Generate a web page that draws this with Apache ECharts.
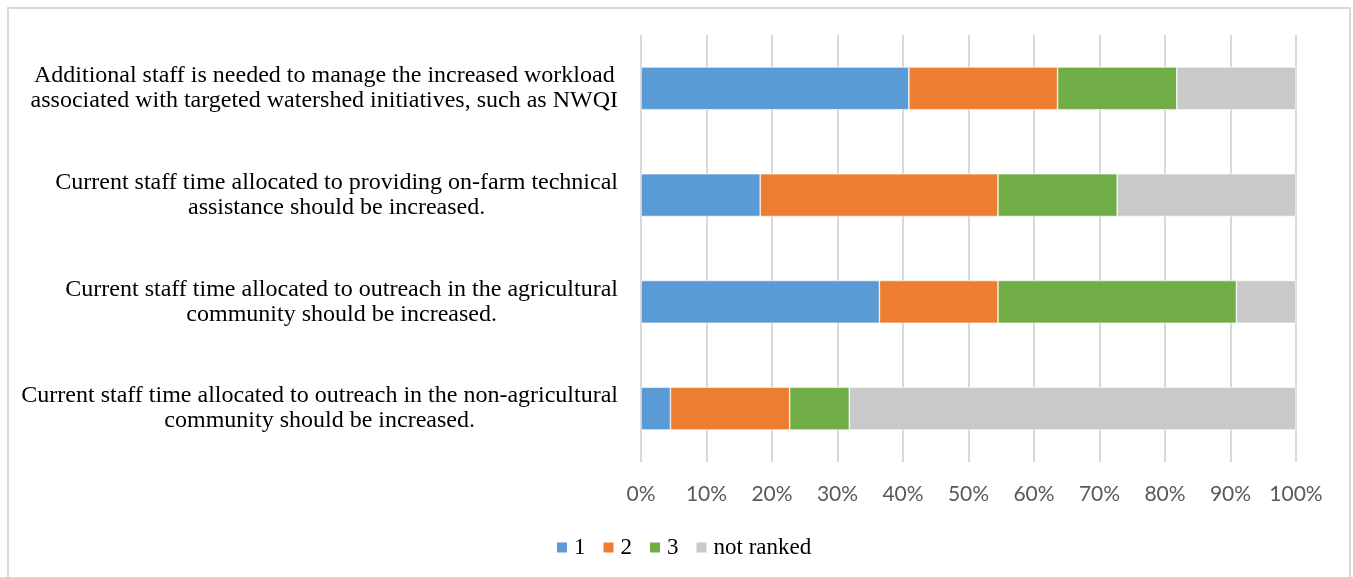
<!DOCTYPE html>
<html>
<head>
<meta charset="utf-8">
<script src="https://cdn.jsdelivr.net/npm/echarts@6/dist/echarts.min.js"></script>
<style>
  html, body { margin: 0; padding: 0; background: #fff; }
  #frame { position: absolute; left: 7px; top: 7px; width: 1344px; height: 580px; border: 2px solid #d9d9d9; box-sizing: border-box; }
  #chart { position: absolute; left: 0; top: 0; width: 1353px; height: 577px; }
</style>
</head>
<body>
<div id="frame"></div>
<div id="chart"></div>
<script>
// Statements, listed bottom-to-top as the category axis draws them
const statements = [
  'Current staff time allocated to outreach in the non-agricultural\ncommunity should be increased.',
  'Current staff time allocated to outreach in the agricultural\ncommunity should be increased.',
  'Current staff time allocated to providing on-farm technical\nassistance should be increased.',
  'Additional staff is needed to manage the increased workload\nassociated with targeted watershed initiatives, such as NWQI'
];

// Share of respondents (%) giving each rank, same order as statements
const rank1 = [4.5, 36.4, 18.2, 40.9];
const rank2 = [18.2, 18.1, 36.3, 22.7];
const rank3 = [9.1, 36.4, 18.2, 18.2];
const notRanked = [68.2, 9.1, 27.3, 18.2];

const seriesNames = ['1', '2', '3', 'not ranked'];
const seriesColors = ['#5B9BD5', '#ED7D31', '#70AD47', '#C9C9C9'];
const seriesData = [rank1, rank2, rank3, notRanked];

const serif = 'Liberation Serif';

const chart = echarts.init(document.getElementById('chart'));

chart.setOption({
  animation: false,
  grid: { left: 641, right: 57, top: 35, bottom: 115, containLabel: false },
  legend: {
    data: seriesNames,
    top: 531,
    left: 550,
    itemWidth: 12,
    itemHeight: 12,
    itemGap: 16,
    icon: 'rect',
    textStyle: { fontFamily: serif, fontSize: 23, color: '#000', padding: [0, 0, 0, 1] }
  },
  xAxis: {
    type: 'value',
    min: 0,
    max: 100,
    interval: 10,
    axisLine: { show: false },
    axisTick: { show: false },
    splitLine: { show: true, lineStyle: { color: '#d9d9d9', width: 2 } },
    axisLabel: {
      formatter: '{value}%',
      margin: 22,
      fontFamily: 'Lato',
      fontSize: 21,
      color: '#595959'
    }
  },
  yAxis: {
    type: 'category',
    data: statements,
    axisLine: { show: false },
    axisTick: { show: false },
    splitLine: { show: false },
    axisLabel: {
      margin: 23,
      align: 'right',
      // each statement is right-anchored, its two lines centred on each other
      formatter: (v) => v.split('\n').map((line) => '{c|' + line + '}').join('\n'),
      rich: {
        c: { align: 'center', fontFamily: serif, fontSize: 24, lineHeight: 25, color: '#000' }
      }
    }
  },
  series: seriesData.map((d, i) => ({
    name: seriesNames[i],
    type: 'bar',
    stack: 'total',
    data: d,
    barWidth: '40%',
    itemStyle: { color: seriesColors[i], borderColor: '#ffffff', borderWidth: 0.6 }
  }))
});
</script>
</body>
</html>
